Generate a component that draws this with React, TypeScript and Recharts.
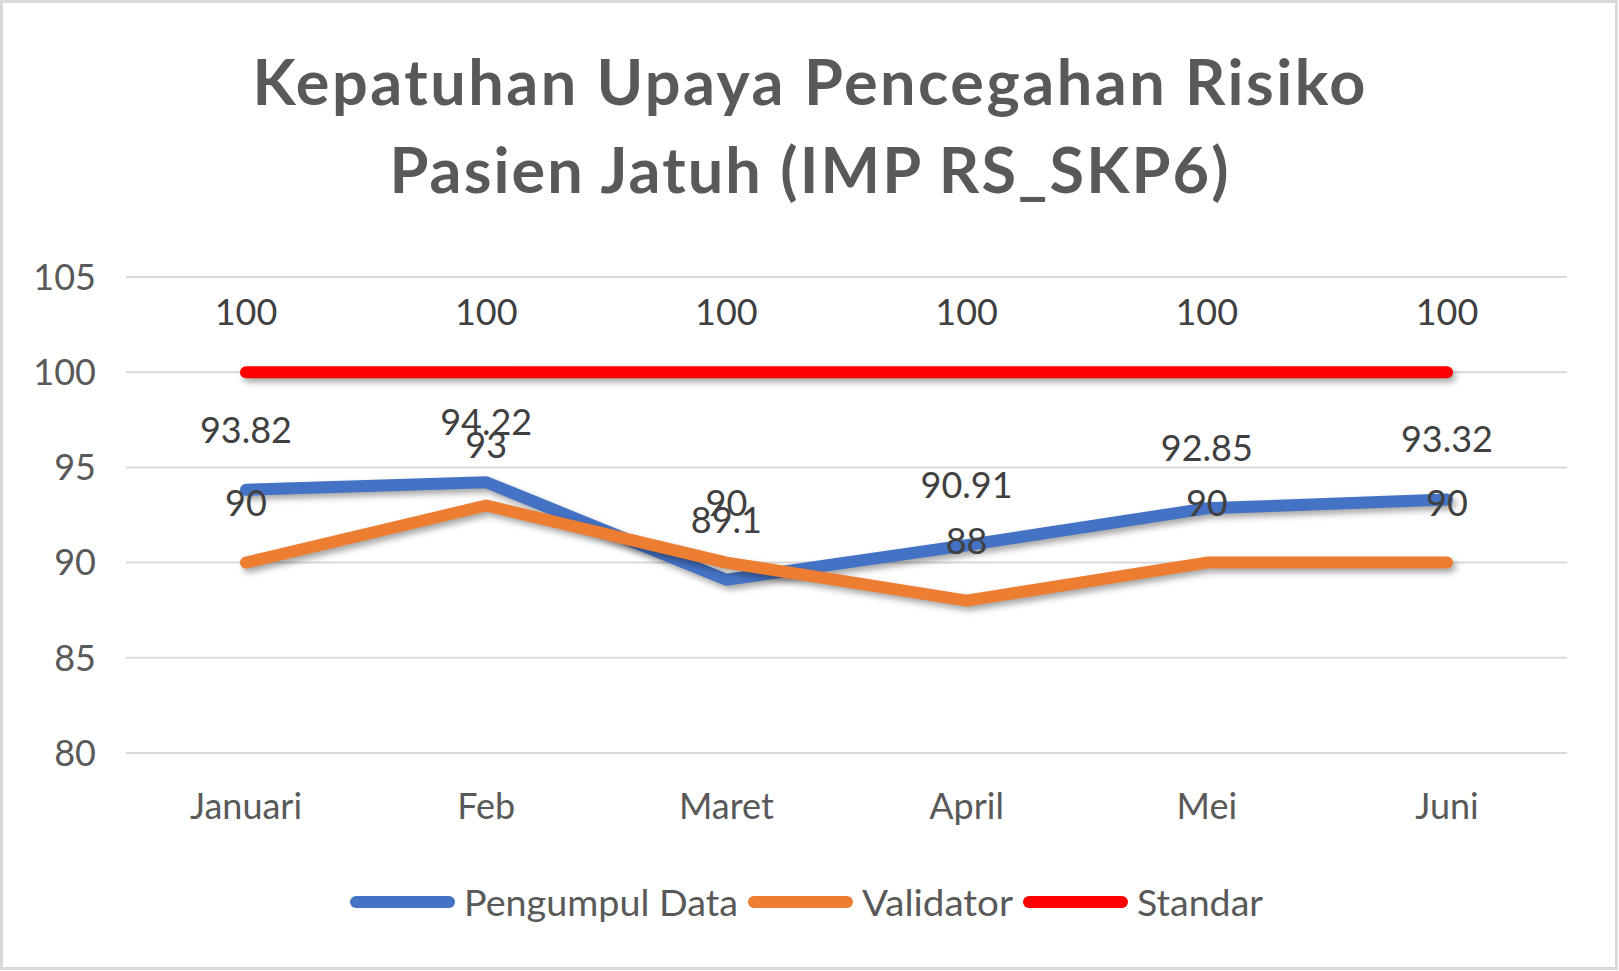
import React from 'react';
import { LineChart, Line, XAxis, YAxis, CartesianGrid, LabelList, Legend } from 'recharts';

const months = ['Januari', 'Feb', 'Maret', 'April', 'Mei', 'Juni'];
const pengumpulData = [93.82, 94.22, 89.1, 90.91, 92.85, 93.32];
const validatorData = [90, 93, 90, 88, 90, 90];
const standarData = [100, 100, 100, 100, 100, 100];
const yTicks = [80, 85, 90, 95, 100, 105];
const titleLines = ['Kepatuhan Upaya Pencegahan Risiko', 'Pasien Jatuh (IMP RS_SKP6)'];

const series = [
  { key: 'pengumpul', name: 'Pengumpul Data', color: '#4472C4' },
  { key: 'validator', name: 'Validator', color: '#ED7D31' },
  { key: 'standar', name: 'Standar', color: '#FF0000' },
];

const data = months.map((m, i) => ({
  month: m,
  pengumpul: pengumpulData[i],
  validator: validatorData[i],
  standar: standarData[i],
}));

const FONT = 'Lato, "Open Sans", "DejaVu Sans", sans-serif';
const W = 1618;
const H = 970;

const renderLabel = (props: any) => {
  const { x, y, value } = props;
  if (x == null || y == null) return null;
  return (
    <text x={x} y={y - 47} textAnchor="middle" fill="#404040" fontSize={36} fontFamily={FONT}>
      {value}
    </text>
  );
};

const legendTextWidths = [274, 151, 126];

const LegendContent = () => {
  let cursor = 350;
  const items = series.map((s, i) => {
    const x0 = cursor;
    const tx = x0 + 105 + 9;
    cursor = tx + legendTextWidths[i] + 10;
    return (
      <g key={s.key}>
        <line x1={x0 + 6} x2={x0 + 99} y1={30} y2={30} stroke={s.color} strokeWidth={12} strokeLinecap="round" />
        <text
          x={tx}
          y={44}
          fontSize={37}
          fontFamily={FONT}
          fill="#595959"
          textLength={legendTextWidths[i]}
          lengthAdjust="spacingAndGlyphs"
        >
          {s.name}
        </text>
      </g>
    );
  });
  return (
    <svg width={W} height={60} style={{ display: 'block' }}>
      {items}
    </svg>
  );
};

export default function App() {
  return (
    <div style={{ position: 'absolute', left: 0, top: 0, width: W, height: H, background: '#fff', overflow: 'hidden' }}>
      <style>{`.recharts-line-curve{filter: drop-shadow(3px 4px 3px rgba(0,0,0,0.35));}`}</style>
      <svg width={W} height={220} style={{ position: 'absolute', left: 0, top: 0 }}>
        <text
          x={W / 2}
          y={105}
          textAnchor="middle"
          fontSize={63}
          fontWeight={700}
          fontFamily={FONT}
          fill="#595959"
          textLength={1113}
          lengthAdjust="spacing"
        >
          {titleLines[0]}
        </text>
        <text
          x={W / 2}
          y={193}
          textAnchor="middle"
          fontSize={63}
          fontWeight={700}
          fontFamily={FONT}
          fill="#595959"
          textLength={839}
          lengthAdjust="spacing"
        >
          {titleLines[1]}
        </text>
      </svg>
      <div style={{ position: 'absolute', left: 0, top: 0 }}>
        <LineChart width={W} height={H} data={data} margin={{ top: 277, right: 51, bottom: 157, left: 0 }}>
          <CartesianGrid vertical={false} stroke="#D9D9D9" strokeWidth={2} />
          <XAxis
            dataKey="month"
            padding={{ left: 120, right: 120 }}
            axisLine={false}
            tickLine={false}
            tickSize={0}
            tickMargin={40}
            height={60}
            interval={0}
            tick={{ fill: '#595959', fontSize: 36, fontFamily: FONT }}
          />
          <YAxis
            type="number"
            domain={[80, 105]}
            ticks={yTicks}
            axisLine={false}
            tickLine={false}
            tickSize={0}
            tickMargin={30}
            width={126}
            interval={0}
            tick={{ fill: '#595959', fontSize: 36, fontFamily: FONT }}
          />
          {series.map((s) => (
            <Line
              key={s.key}
              dataKey={s.key}
              name={s.name}
              stroke={s.color}
              strokeWidth={12}
              strokeLinecap="round"
              strokeLinejoin="round"
              dot={false}
              activeDot={false}
              isAnimationActive={false}
            >
              <LabelList dataKey={s.key} content={renderLabel} />
            </Line>
          ))}
          <Legend
            layout="horizontal"
            verticalAlign="middle"
            align="center"
            content={() => <LegendContent />}
            wrapperStyle={{ top: 872, left: 0, width: W, height: 60 }}
          />
        </LineChart>
      </div>
      <div
        style={{
          position: 'absolute',
          left: 0,
          top: 0,
          width: W,
          height: H,
          boxSizing: 'border-box',
          border: '3px solid #D9D9D9',
          pointerEvents: 'none',
        }}
      />
    </div>
  );
}
